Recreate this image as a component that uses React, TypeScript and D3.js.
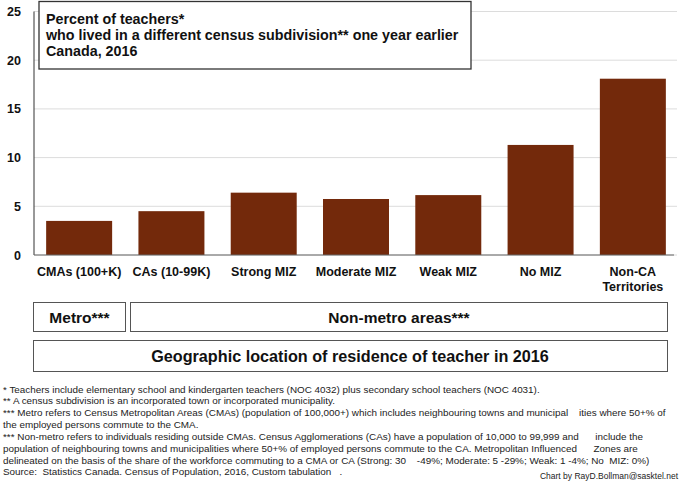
import React from 'react'
import * as d3 from 'd3'

// categories and values
const categories = [
  ['CMAs (100+K)'],
  ['CAs (10-99K)'],
  ['Strong MIZ'],
  ['Moderate MIZ'],
  ['Weak MIZ'],
  ['No MIZ'],
  ['Non-CA', 'Territories']
]
const percents = [3.5, 4.5, 6.4, 5.75, 6.15, 11.3, 18.1]
const yTicks = [0, 5, 10, 15, 20, 25]

const titleLines = [
  'Percent of teachers*',
  'who lived in a different census subdivision** one year earlier',
  'Canada, 2016'
]

const footnotes = [
  '* Teachers include elementary school and kindergarten teachers (NOC 4032) plus secondary school teachers (NOC 4031).',
  '** A census subdivision is an incorporated town or incorporated municipality.',
  '*** Metro refers to Census Metropolitan Areas (CMAs) (population of 100,000+) which includes neighbouring towns and municipal    ities where 50+% of',
  'the employed persons commute to the CMA.',
  '*** Non-metro refers to individuals residing outside CMAs. Census Agglomerations (CAs) have a population of 10,000 to 99,999 and      include the',
  'population of neighbouring towns and municipalities where 50+% of employed persons commute to the CA. Metropolitan Influenced      Zones are',
  'delineated on the basis of the share of the workforce commuting to a CMA or CA (Strong: 30    -49%; Moderate: 5 -29%; Weak: 1 -4%; No  MIZ: 0%)',
  'Source:  Statistics Canada. Census of Population, 2016, Custom tabulation   .'
]

const W = 685
const H = 481
const FONT = "'Liberation Sans', Arial, sans-serif"
const BAR = '#73290b'

export default function App() {
  const x = d3
    .scaleBand<number>()
    .domain(d3.range(categories.length))
    .range([33, 679])
    .paddingInner(0.285)
    .paddingOuter(0.1425)

  const y = d3.scaleLinear().domain([0, 25]).range([255, 11.5])

  const boxStroke = '#555'
  const cx = (i: number) => (x(i) as number) + x.bandwidth() / 2

  return (
    <svg
      width={W}
      height={H}
      style={{ position: 'absolute', left: 0, top: 0, background: '#fff' }}
      fontFamily={FONT}
    >
      {/* gridlines */}
      {yTicks.map(t => (
        <line
          key={'g' + t}
          x1={34}
          x2={677}
          y1={y(t)}
          y2={y(t)}
          stroke="#dcdcdc"
          strokeWidth={1}
        />
      ))}
      {/* y tick labels */}
      {yTicks.map(t => (
        <text
          key={'t' + t}
          x={21}
          y={y(t)}
          dy="0.36em"
          textAnchor="end"
          fontSize={12.5}
          fontWeight="bold"
          fill="#111"
        >
          {t}
        </text>
      ))}

      {/* bars */}
      {percents.map((v, i) => (
        <rect
          key={'b' + i}
          x={x(i)}
          y={y(v)}
          width={x.bandwidth()}
          height={y(0) - y(v)}
          fill={BAR}
        />
      ))}

      {/* axes */}
      <line x1={34} x2={34} y1={y(25)} y2={y(0)} stroke="#333" strokeWidth={1} />
      <line x1={34} x2={674} y1={y(0)} y2={y(0)} stroke="#666" strokeWidth={1.2} />

      {/* category labels */}
      {categories.map((lines, i) => (
        <text
          key={'c' + i}
          x={cx(i)}
          y={276}
          textAnchor="middle"
          fontSize={12.5}
          fontWeight="bold"
          fill="#111"
        >
          {lines.map((l, j) => (
            <tspan key={j} x={cx(i)} dy={j ? 15 : 0}>
              {l}
            </tspan>
          ))}
        </text>
      ))}

      {/* title box */}
      <rect x={39} y={1.5} width={432} height={67.5} fill="#fff" stroke="#333" strokeWidth={1.3} />
      {titleLines.map((l, i) => (
        <text key={'h' + i} x={46} y={24 + i * 16} fontSize={14.3} fontWeight="bold" fill="#111">
          {l}
        </text>
      ))}

      {/* group boxes */}
      <rect x={33.5} y={302.5} width={92} height={29} fill="#fff" stroke={boxStroke} />
      <text x={79.5} y={322.5} textAnchor="middle" fontSize={15.5} fontWeight="bold" fill="#111">
        Metro***
      </text>
      <rect x={130.5} y={302.5} width={537} height={29} fill="#fff" stroke={boxStroke} />
      <text x={399} y={322.5} textAnchor="middle" fontSize={15.5} fontWeight="bold" fill="#111">
        Non-metro areas***
      </text>
      <rect x={33.5} y={340.5} width={634} height={31} fill="#fff" stroke={boxStroke} />
      <text x={350} y={361.5} textAnchor="middle" fontSize={16.2} fontWeight="bold" fill="#111">
        Geographic location of residence of teacher in 2016
      </text>

      {/* footnotes */}
      {footnotes.map((l, i) => (
        <text
          key={'f' + i}
          x={3}
          y={392.5 + i * 11.85}
          fontSize={9.9}
          fill="#222"
          style={{ whiteSpace: 'pre' }}
        >
          {l}
        </text>
      ))}
      <text x={678} y={479} textAnchor="end" fontSize={8.5} fill="#222">
        Chart by RayD.Bollman@sasktel.net
      </text>
    </svg>
  )
}
